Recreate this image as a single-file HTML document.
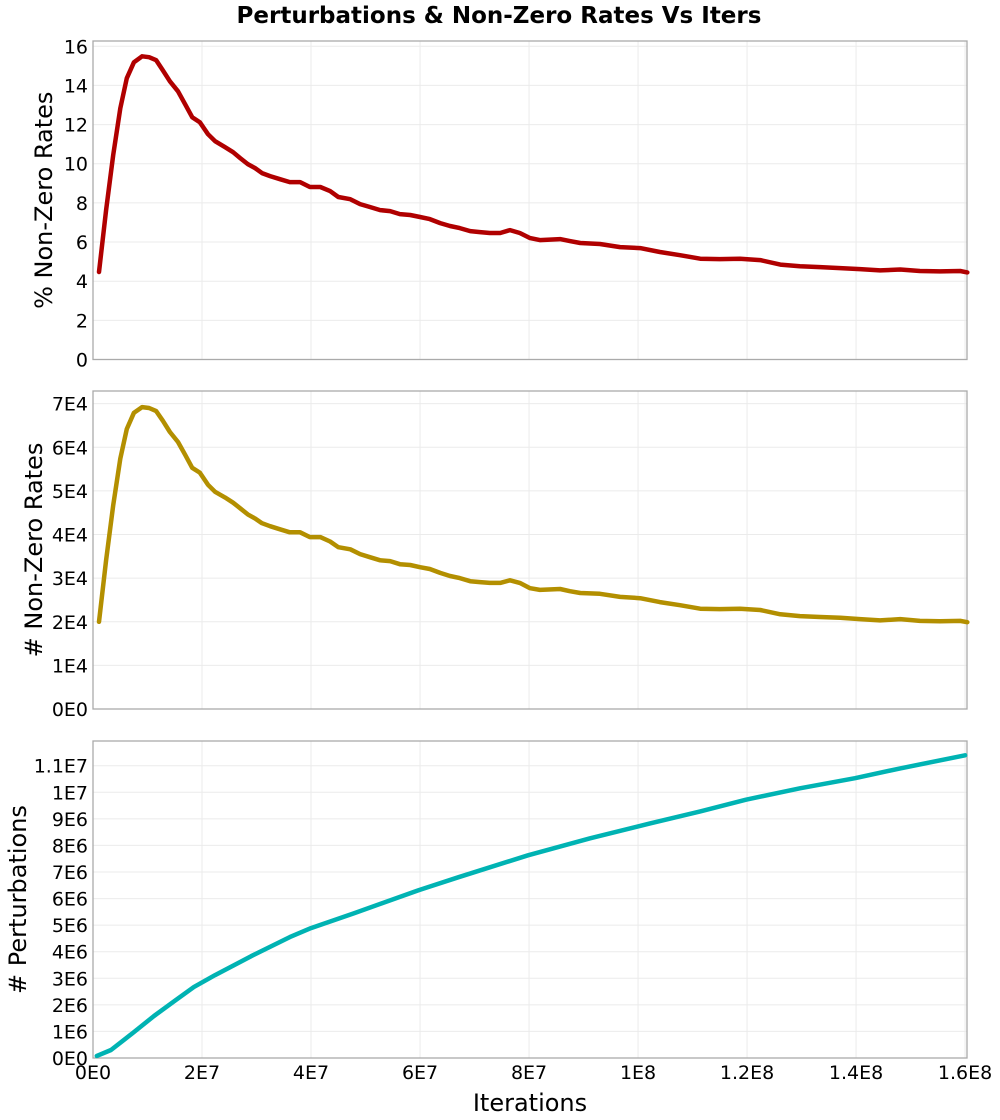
<!DOCTYPE html>
<html><head><meta charset="utf-8"><style>
body{margin:0;background:#fff;}
svg{display:block;font-family:"DejaVu Sans","Liberation Sans",sans-serif;}
</style></head><body>
<svg id="chart" width="1000" height="1120">
<text x="499" y="23" text-anchor="middle" font-size="23" font-weight="bold">Perturbations &amp; Non-Zero Rates Vs Iters</text>
<text x="530" y="1111" text-anchor="middle" font-size="24">Iterations</text>
</svg>
<script>
// iterations in millions
const itersRate = [1.1,2.4,3.7,5.0,6.2,7.5,9.0,10.3,11.6,12.8,14.1,15.6,16.9,18.2,19.6,21.1,22.4,24.2,25.7,27.0,28.4,29.7,31.0,32.5,34.3,36.1,38.0,39.8,41.7,43.5,45.0,47.2,49.0,50.8,52.7,54.5,56.3,58.2,60.0,61.8,63.7,65.5,67.3,69.2,71.0,72.8,74.7,76.5,78.3,80.2,82.0,85.7,87.5,89.4,93.0,96.7,100.4,104.0,107.7,111.4,115.0,118.7,122.4,126.1,129.7,133.4,137.1,140.7,144.4,148.1,151.7,155.4,159.1,160.4];
const pctRates = [4.47,7.63,10.44,12.83,14.37,15.18,15.49,15.44,15.29,14.78,14.21,13.70,13.04,12.38,12.12,11.51,11.15,10.85,10.59,10.29,9.98,9.78,9.52,9.37,9.21,9.06,9.06,8.81,8.81,8.60,8.30,8.19,7.94,7.79,7.63,7.58,7.43,7.38,7.28,7.17,6.97,6.82,6.71,6.56,6.51,6.46,6.46,6.61,6.46,6.20,6.10,6.15,6.05,5.95,5.90,5.74,5.69,5.49,5.33,5.15,5.13,5.15,5.08,4.85,4.76,4.72,4.67,4.62,4.55,4.60,4.52,4.50,4.52,4.45];
// thousands
const countRates = [20.0,34.1,46.7,57.4,64.2,67.9,69.2,69.0,68.3,66.1,63.5,61.2,58.3,55.3,54.2,51.4,49.8,48.5,47.3,46.0,44.6,43.7,42.6,41.9,41.2,40.5,40.5,39.4,39.4,38.4,37.1,36.6,35.5,34.8,34.1,33.9,33.2,33.0,32.5,32.1,31.2,30.5,30.0,29.3,29.1,28.9,28.9,29.5,28.9,27.7,27.3,27.5,27.0,26.6,26.4,25.7,25.4,24.5,23.8,23.0,22.9,23.0,22.7,21.7,21.3,21.1,20.9,20.6,20.3,20.6,20.2,20.1,20.2,19.9];
const itersPert = [0.7,3.3,7.3,11.2,15.2,18.5,22.4,29.0,36.1,40.0,47.9,59.8,67.0,79.8,91.2,102.2,111.4,119.8,129.7,139.8,148.1,160.0];
// millions
const perturbations = [0.08,0.3,0.94,1.58,2.18,2.67,3.12,3.83,4.55,4.89,5.45,6.32,6.80,7.63,8.27,8.83,9.28,9.72,10.15,10.53,10.9,11.39];
const xTickLabels = ["0E0","2E7","4E7","6E7","8E7","1E8","1.2E8","1.4E8","1.6E8"];
const pctTickLabels = ["0","2","4","6","8","10","12","14","16"];
const countTickLabels = ["0E0","1E4","2E4","3E4","4E4","5E4","6E4","7E4"];
const pertTickLabels = ["0E0","1E6","2E6","3E6","4E6","5E6","6E6","7E6","8E6","9E6","1E7","1.1E7"];

const NS="http://www.w3.org/2000/svg";
const svg=document.getElementById('chart');
const X0=93,X1=967,XMAX=160.35;
const xs=v=>X0+(v/XMAX)*(X1-X0);
function mk(tag,attrs,parent){const e=document.createElementNS(NS,tag);for(const k in attrs)e.setAttribute(k,attrs[k]);(parent||svg).appendChild(e);return e;}

function panel(top,bottom,ymax,tickStep,tickLabels,xv,yv,color,title,titleX,name,showX){
  const ys=v=>bottom-(v/ymax)*(bottom-top);
  const g=mk('g',{});
  
  
  for(let i=0;i<xTickLabels.length;i++){
    const x=xs(i*20);
    const l=mk('line',{x1:x,x2:x,y1:top,y2:bottom,stroke:'#ebebeb','stroke-width':1},g);
    
    
    if(showX){
      const t=mk('text',{x:x,y:bottom+21,'text-anchor':'middle','font-size':19},g);
      t.textContent=xTickLabels[i];
      
      
    }
  }
  for(let i=0;i<tickLabels.length;i++){
    const y=ys(i*tickStep);
    const l=mk('line',{x1:X0,x2:X1,y1:y,y2:y,stroke:'#ebebeb','stroke-width':1},g);
    
    
    const t=mk('text',{x:X0-5,y:y+7,'text-anchor':'end','font-size':19},g);
    t.textContent=tickLabels[i];
    
    
  }
  const r=mk('rect',{x:X0,y:top,width:X1-X0,height:bottom-top,fill:'none',stroke:'#aaaaaa','stroke-width':1.3},g);
  
  
  const n=Math.min(xv.length,yv.length);
  let d='';
  for(let i=0;i<n;i++)d+=(i?'L':'M')+xs(xv[i]).toFixed(1)+','+ys(yv[i]).toFixed(1);
  const p=mk('path',{d:d,fill:'none',stroke:color,'stroke-width':4.5,'stroke-linejoin':'round','stroke-linecap':'round'},g);
  
  
  const cy=(top+bottom)/2;
  const t=mk('text',{x:titleX,y:cy,'text-anchor':'middle','font-size':24,transform:'rotate(-90 '+titleX+' '+cy+')'},g);
  t.textContent=title;
  
  
}
panel(41,359.5,16.27,2,pctTickLabels,itersRate,pctRates,'#b00000','% Non-Zero Rates',52,'pct-rates',false);
panel(391,709,72.9,10,countTickLabels,itersRate,countRates,'#b38f00','# Non-Zero Rates',42,'count-rates',false);
panel(741,1058,11.93,1,pertTickLabels,itersPert,perturbations,'#00b3b3','# Perturbations',26,'perturbations',true);
</script>
</body></html>
